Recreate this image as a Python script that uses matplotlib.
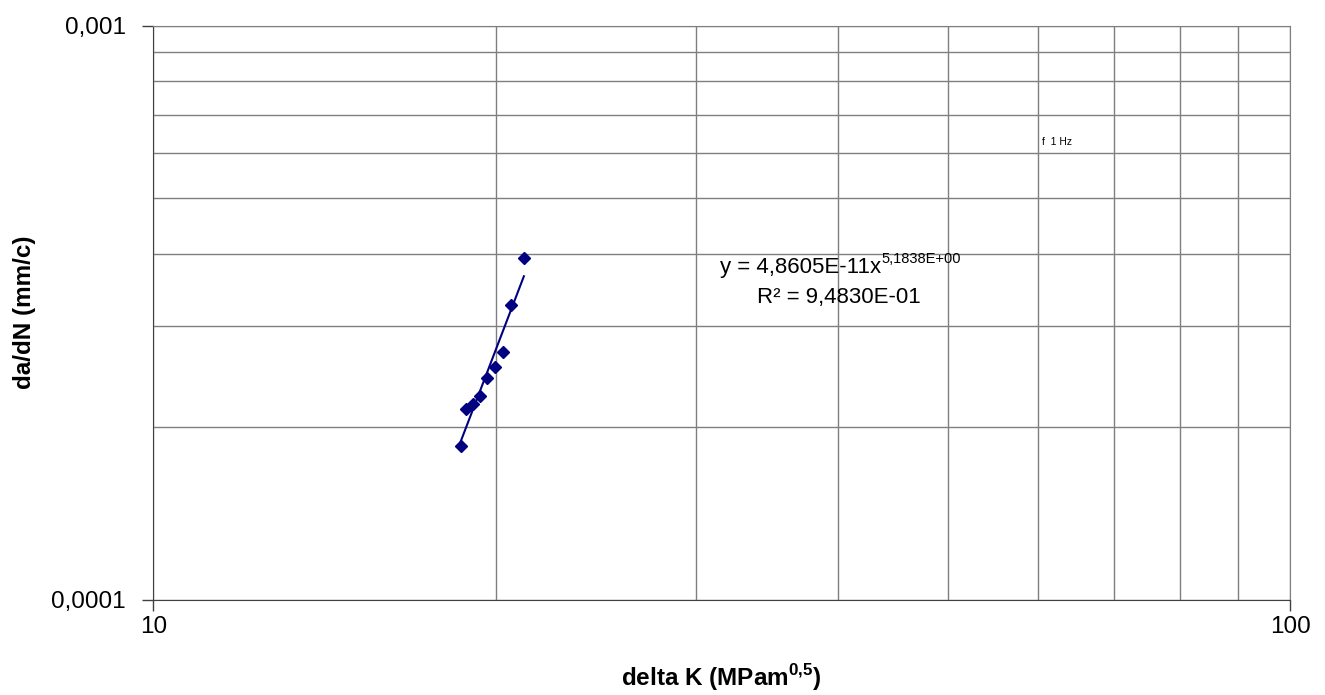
import numpy as np
import matplotlib
matplotlib.use('Agg')
from matplotlib import pyplot as plt
from matplotlib.ticker import FixedLocator, NullFormatter, FixedFormatter

delta_k = [18.63, 18.84, 19.10, 19.36, 19.64, 19.97, 20.29, 20.64, 21.18]
dadn = [1.854e-4, 2.150e-4, 2.192e-4, 2.266e-4, 2.429e-4, 2.542e-4, 2.700e-4, 3.257e-4, 3.937e-4]
x_ticks = [10, 100]
x_tick_labels = ['10', '100']
y_ticks = [1e-4, 1e-3]
y_tick_labels = ['0,0001', '0,001']
eq_text = 'y = 4,8605E-11x'
eq_sup = '5,1838E+00'
r2_text = 'R² = 9,4830E-01'

plt.rcParams['font.family'] = ['Liberation Sans', 'DejaVu Sans']
plt.rcParams['mathtext.fontset'] = 'custom'
plt.rcParams['mathtext.rm'] = 'Liberation Sans'
plt.rcParams['mathtext.bf'] = 'Liberation Sans:bold'

fig = plt.figure(figsize=(13.25, 6.95), dpi=100)
ax = fig.add_axes([0.1158, 0.1374, 0.8578, 0.8256])
ax.set_xscale('log')
ax.set_yscale('log')
ax.set_xlim(10, 100)
ax.set_ylim(1e-4, 1e-3)

# power trendline fitted in log space, like the spreadsheet does
b, a = np.polyfit(np.log10(delta_k), np.log10(dadn), 1)
xs = np.linspace(min(delta_k), max(delta_k), 50)
ax.plot(xs, 10**a * xs**b, color='#000080', lw=1.5, zorder=3)
ax.plot(delta_k, dadn, 'D', color='#000080', ms=6, zorder=4)

ax.xaxis.set_major_locator(FixedLocator(x_ticks))
ax.yaxis.set_major_locator(FixedLocator(y_ticks))
ax.xaxis.set_major_formatter(FixedFormatter(x_tick_labels))
ax.yaxis.set_major_formatter(FixedFormatter(y_tick_labels))
ax.xaxis.set_minor_locator(FixedLocator(range(20, 100, 10)))
ax.yaxis.set_minor_locator(FixedLocator([i * 1e-4 for i in range(2, 10)]))
ax.xaxis.set_minor_formatter(NullFormatter())
ax.yaxis.set_minor_formatter(NullFormatter())
ax.tick_params(which='major', direction='out', length=8, width=1, color='#404040', labelsize=17.5)
ax.tick_params(axis='y', which='major', pad=12)
ax.tick_params(axis='x', which='major', pad=4)
ax.tick_params(which='minor', length=0)
ax.grid(True, which='both', color='#7f7f7f', lw=1)
ax.set_axisbelow(True)

for s in ['top', 'right']:
    ax.spines[s].set_color('#7f7f7f')
for s in ['left', 'bottom']:
    ax.spines[s].set_color('#404040')

ax.set_xlabel(r'delta K (MPam$^{\mathbf{0{,}5}}$)', fontsize=17.5, fontweight='bold', labelpad=17)
ax.set_ylabel('da/dN (mm/c)', fontsize=17.5, fontweight='bold', labelpad=11)

t1 = ax.text(0.4985, 0.578, eq_text, transform=ax.transAxes, fontsize=16, ha='left', va='center')
ax.annotate(eq_sup, xy=(1, 0.6), xycoords=t1, fontsize=10.5, ha='left', va='bottom')
ax.text(0.603, 0.527, r2_text, transform=ax.transAxes, fontsize=16, ha='center', va='center')
ax.text(0.782, 0.798, 'f  1 Hz', transform=ax.transAxes, fontsize=7.5, ha='left', va='center')

plt.savefig('out.png', dpi=100)
